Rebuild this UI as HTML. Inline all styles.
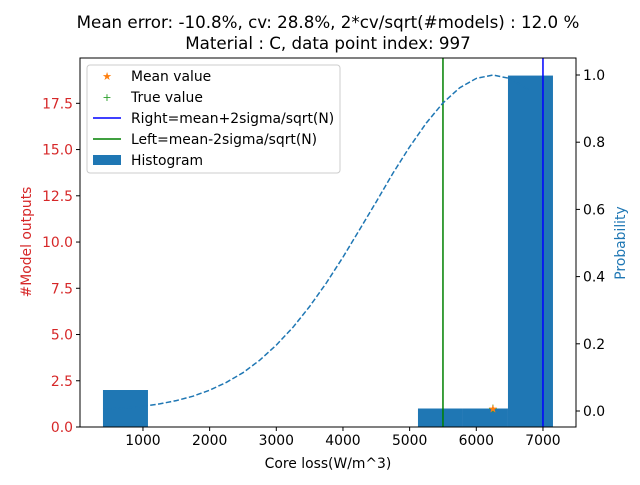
<!DOCTYPE html>
<html><head><meta charset="utf-8"><style>
body{margin:0;background:#fff;}
svg text{font-family:"DejaVu Sans","Liberation Sans",sans-serif;}
</style></head><body>
<svg id="chart" width="640" height="480" viewBox="0 0 640 480" xmlns="http://www.w3.org/2000/svg">
<rect width="640" height="480" fill="#fff"/>
<text x="328" y="28" font-size="16.7" text-anchor="middle">Mean error: -10.8%, cv: 28.8%, 2*cv/sqrt(#models) : 12.0 %</text>
<text x="328" y="49" font-size="16.7" text-anchor="middle">Material : C, data point index: 997</text>
<g id="plot"></g>
</svg>
<script>
const binEdges=[400,1075,1750,2425,3100,3775,4450,5125,5800,6475,7150];
const binCounts=[2,0,0,0,0,0,0,1,1,19];
const curveX=[400,750,1000,1250,1500,1750,2000,2250,2500,2750,3000,3250,3500,3750,4000,4250,4500,4750,5000,5250,5500,5750,6000,6250,6500,6800];
const curveY=[0.005,0.009,0.014,0.021,0.031,0.044,0.062,0.085,0.114,0.151,0.196,0.249,0.311,0.381,0.458,0.540,0.623,0.708,0.786,0.857,0.917,0.962,0.990,1.0,0.990,0.954];
const meanValue=6250, meanMarkerCount=1;
const trueValue=6250, trueMarkerCount=1;
const rightLine=7000, leftLine=5500;
const xTicks=[1000,2000,3000,4000,5000,6000,7000];
const yLeftTicks=[0,2.5,5,7.5,10,12.5,15,17.5];
const yRightTicks=[0,0.2,0.4,0.6,0.8,1.0];

const L=80,R=576,T=58,B=427;
const sx=v=>76.3+(v)*400/6000;
const syL=v=>B-v*(B-T)/19.95;
const syR=v=>411-v*336;
const NS="http://www.w3.org/2000/svg";
const g=document.getElementById('plot');
const FS=13.9;
function mk(tag,attrs,parent){const e=document.createElementNS(NS,tag);for(const k in attrs)e.setAttribute(k,attrs[k]);(parent||g).appendChild(e);return e;}

for(let i=0;i<binCounts.length;i++){
  if(binCounts[i]<=0)continue;
  const r=mk('rect',{x:sx(binEdges[i]),y:syL(binCounts[i]),width:sx(binEdges[i+1])-sx(binEdges[i]),height:B-syL(binCounts[i]),fill:'#1f77b4'});
  
  
}
const vb=mk('line',{x1:sx(rightLine),x2:sx(rightLine),y1:T,y2:B,stroke:'#0000ff','stroke-width':1.5});


const vg=mk('line',{x1:sx(leftLine),x2:sx(leftLine),y1:T,y2:B,stroke:'#008000','stroke-width':1.5});


const pts=curveX.map((x,i)=>sx(x).toFixed(1)+','+syR(curveY[i]).toFixed(1)).join(' ');
const c=mk('polyline',{points:pts,fill:'none',stroke:'#1f77b4','stroke-width':1.5,'stroke-dasharray':'5.5,2.4'});


const tm=mk('text',{x:sx(trueValue),y:syL(trueMarkerCount)+4,'font-size':12,fill:'#2ca02c','text-anchor':'middle'});
tm.textContent='+';


const sm=mk('text',{x:sx(meanValue),y:syL(meanMarkerCount)+4,'font-size':11,fill:'#ff7f0e','text-anchor':'middle'});
sm.textContent='★';


const fr=mk('rect',{x:L,y:T,width:R-L,height:B-T,fill:'none',stroke:'#000','stroke-width':1});


xTicks.forEach(v=>{const x=sx(v);mk('line',{x1:x,x2:x,y1:B,y2:B+4,stroke:'#000'});
 const t=mk('text',{x:x,y:B+18,'font-size':FS,'text-anchor':'middle'});t.textContent=v;
 
 });
yLeftTicks.forEach(v=>{const y=syL(v);mk('line',{x1:L-4,x2:L,y1:y,y2:y,stroke:'#000'});
 const t=mk('text',{x:L-7,y:y+5,'font-size':FS,'text-anchor':'end',fill:'#d62728'});t.textContent=v.toFixed(1);
 
 });
yRightTicks.forEach(v=>{const y=syR(v);mk('line',{x1:R,x2:R+4,y1:y,y2:y,stroke:'#000'});
 const t=mk('text',{x:R+7,y:y+5,'font-size':FS});t.textContent=v.toFixed(1);
 
 });
const xl=mk('text',{x:328,y:468,'font-size':FS,'text-anchor':'middle'});xl.textContent='Core loss(W/m^3)';


const yl=mk('text',{x:0,y:0,'font-size':FS,'text-anchor':'middle',fill:'#d62728',transform:'translate(31,242) rotate(-90)'});yl.textContent='#Model outputs';


const yr=mk('text',{x:0,y:0,'font-size':FS,'text-anchor':'middle',fill:'#1f77b4',transform:'translate(625,243) rotate(-90)'});yr.textContent='Probability';


const lg=mk('g',{});


mk('rect',{x:87,y:65,width:253,height:108,rx:3,fill:'#fff','fill-opacity':0.8,stroke:'#ccc'},lg);
const entries=[['★','#ff7f0e','Mean value'],['+','#2ca02c','True value'],['line','#0000ff','Right=mean+2sigma/sqrt(N)'],['line','#008000','Left=mean-2sigma/sqrt(N)'],['rect','#1f77b4','Histogram']];
entries.forEach((e,i)=>{const y=76+i*21;
 if(e[0]==='line')mk('line',{x1:93,x2:121,y1:y,y2:y,stroke:e[1],'stroke-width':1.5},lg);
 else if(e[0]==='rect')mk('rect',{x:93,y:y-5,width:28,height:10,fill:e[1]},lg);
 else {const m=mk('text',{x:107,y:y+4,'font-size':11,fill:e[1],'text-anchor':'middle'},lg);m.textContent=e[0];}
 const t=mk('text',{x:131,y:y+5,'font-size':FS},lg);t.textContent=e[2];
 
 });
</script>
</body></html>
